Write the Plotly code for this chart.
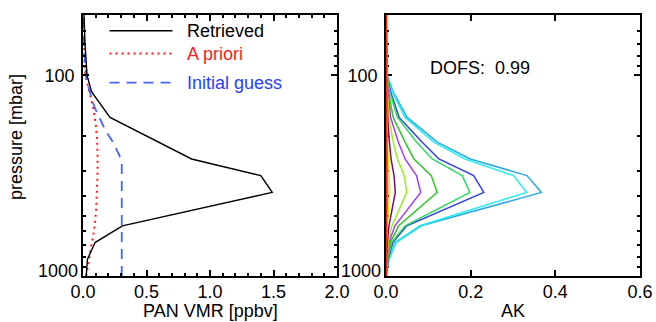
import math
import plotly.graph_objects as go

# ---------------- data ----------------
P = [1000, 908, 825, 681, 562, 383, 316, 261, 215, 162, 121, 100, 68, 50]
retrieved = [0.025, 0.03, 0.035, 0.095, 0.31, 1.49, 1.40, 0.855, 0.59, 0.213, 0.068, 0.032, 0.015, 0.008]

P_AP = [1000, 908, 825, 750, 681, 619, 562, 464, 383, 316, 261, 215, 178, 162, 147, 133, 121, 110, 100, 83, 68, 56, 50]
apriori = [0.025, 0.035, 0.048, 0.06, 0.07, 0.082, 0.092, 0.104, 0.11, 0.114, 0.115, 0.112, 0.102, 0.094,
           0.082, 0.066, 0.05, 0.034, 0.02, 0.011, 0.007, 0.005, 0.004]

P_IG = [1000, 908, 825, 681, 562, 464, 383, 316, 274, 249, 230, 210, 190, 166, 147, 135, 121, 110, 100, 83, 68, 56, 50]
initial = [0.305, 0.305, 0.305, 0.305, 0.305, 0.305, 0.305, 0.305, 0.305, 0.285, 0.258, 0.226, 0.18, 0.134,
           0.097, 0.075, 0.052, 0.035, 0.022, 0.012, 0.007, 0.004, 0.003]

# averaging kernel rows (on grid P)
ak_rows = {
    "red":     [0.001, 0.001, 0.001, 0.001, 0.001, 0.0015, 0.0015, 0.001, 0.001, 0.001, 0.001, 0.001, 0.001, 0.001],
    "orange":  [0.0, 0.0, 0.0, 0.0005, 0.001, 0.004, 0.0035, 0.002, 0.0015, 0.001, 0.0005, 0.0, 0.0, 0.0],
    "yellow":  [0.0, 0.0, 0.0005, 0.001, 0.003, 0.009, 0.008, 0.005, 0.003, 0.002, 0.001, 0.0, 0.0, 0.0],
    "dpurple": [0.0, 0.0005, 0.001, 0.003, 0.007, 0.022, 0.019, 0.012, 0.008, 0.004, 0.002, 0.0005, 0.0, 0.0],
    "ygreen":  [0.0, 0.001, 0.002, 0.005, 0.014, 0.049, 0.043, 0.027, 0.017, 0.007, 0.003, 0.001, 0.0, 0.0],
    "purple":  [0.0, 0.001, 0.002, 0.007, 0.021, 0.082, 0.072, 0.045, 0.029, 0.011, 0.004, 0.001, 0.0, 0.0],
    "green":   [0.0, 0.001, 0.003, 0.010, 0.030, 0.121, 0.107, 0.066, 0.045, 0.017, 0.006, 0.001, 0.0, 0.0],
    "mgreen":  [0.0, 0.002, 0.004, 0.013, 0.045, 0.198, 0.180, 0.109, 0.072, 0.027, 0.009, 0.002, 0.0, 0.0],
    "blue":    [0.0, 0.002, 0.005, 0.016, 0.049, 0.231, 0.207, 0.125, 0.085, 0.031, 0.011, 0.002, 0.0, 0.0],
    "cyan":    [0.0, 0.003, 0.007, 0.021, 0.080, 0.332, 0.301, 0.187, 0.113, 0.045, 0.015, 0.003, 0.0005, 0.0],
    "lblue":   [0.0, 0.003, 0.007, 0.023, 0.083, 0.367, 0.333, 0.199, 0.121, 0.050, 0.017, 0.003, 0.0005, 0.0],
}
ak_colors = {
    "red": "#ff2a00", "orange": "#ff8c1a", "yellow": "#f5f000", "dpurple": "#701470",
    "ygreen": "#98f020", "purple": "#a43cf0", "green": "#30c828", "mgreen": "#30dc64",
    "blue": "#3040f0", "cyan": "#22f0f0", "lblue": "#30a8e8",
}
ak_widths = {"yellow": 1.2, "orange": 1.5, "red": 1.8}

x1_ticks = [0.0, 0.5, 1.0, 1.5, 2.0]
x2_ticks = [0.0, 0.2, 0.4, 0.6]
y_ticks = [100, 1000]
y_ticktext = ["100", ""]          # "1000" is placed slightly above its tick, as in the original
y_bottom_label = "1000"
y_minor = [50, 60, 70, 80, 90, 200, 300, 400, 500, 600, 700, 800, 900]

FONT = "Liberation Sans, Arial, Helvetica, sans-serif"

fig = go.Figure()

# left panel
fig.add_trace(go.Scatter(x=apriori, y=P_AP, mode="lines", xaxis="x", yaxis="y",
                         line=dict(color="#ff1a1a", width=2, dash="2px,4px"), showlegend=False))
fig.add_trace(go.Scatter(x=initial, y=P_IG, mode="lines", xaxis="x", yaxis="y",
                         line=dict(color="#4466ff", width=1.8, dash="10px,7px"), showlegend=False))
fig.add_trace(go.Scatter(x=retrieved, y=P, mode="lines", xaxis="x", yaxis="y",
                         line=dict(color="black", width=1.4), showlegend=False))

# right panel
for name in ["lblue", "cyan", "blue", "mgreen", "green", "purple", "ygreen", "dpurple", "yellow", "orange", "red"]:
    fig.add_trace(go.Scatter(x=ak_rows[name], y=P, mode="lines", xaxis="x2", yaxis="y2",
                             line=dict(color=ak_colors[name], width=ak_widths.get(name, 1.5)),
                             showlegend=False))

dom1 = [0, 254 / 557]
dom2 = [303 / 557, 1]

common_axis = dict(showline=True, linecolor="black", linewidth=1.8, mirror="ticks",
                   ticks="inside", ticklen=6, tickwidth=1.5, tickcolor="black",
                   showgrid=False, zeroline=False, automargin=False,
                   tickfont=dict(family=FONT, size=18, color="black"))

yax = dict(common_axis, type="log", range=[3, math.log10(50)], tickvals=y_ticks,
           ticktext=y_ticktext, ticklabelstandoff=3,
           minor=dict(tickvals=y_minor, ticks="inside", ticklen=3, tickwidth=1.5, tickcolor="black"))

fig.update_layout(
    width=656, height=322,
    margin=dict(l=83, r=16, t=15, b=46, autoexpand=False),
    paper_bgcolor="white", plot_bgcolor="white",
    showlegend=False,
    xaxis=dict(common_axis, domain=dom1, range=[0, 2], tickvals=x1_ticks,
               ticktext=[f"{v:.1f}" for v in x1_ticks], ticklabelstandoff=-2,
               minor=dict(dtick=0.1, ticks="inside", ticklen=3, tickwidth=1.5, tickcolor="black")),
    yaxis=dict(yax, anchor="x"),
    xaxis2=dict(common_axis, domain=dom2, range=[0, 0.6], tickvals=x2_ticks,
                ticktext=[f"{v:.1f}" for v in x2_ticks], ticklabelstandoff=-2, anchor="y2"),
    yaxis2=dict(yax, anchor="x2", layer="below traces"),
)

ann = []
# bottom y labels
for xr, yr in (("x domain", "y domain"), ("x2 domain", "y2 domain")):
    ann.append(dict(text=y_bottom_label, xref=xr, yref=yr, x=0, xshift=-4, y=0, yshift=5,
                    showarrow=False, xanchor="right", yanchor="middle", borderpad=0,
                    font=dict(family=FONT, size=18, color="black")))
# axis titles
ann.append(dict(text="pressure [mbar]", xref="paper", yref="paper", x=(16 - 83) / 557, y=1 - (137 - 15) / 261,
                textangle=-90, showarrow=False, xanchor="center", yanchor="middle", borderpad=0,
                font=dict(family=FONT, size=18, color="black")))
ann.append(dict(text="PAN VMR [ppbv]", xref="x domain", yref="paper", x=0.5, y=0, yshift=-(310.5 - 276),
                showarrow=False, xanchor="center", yanchor="middle", borderpad=0,
                font=dict(family=FONT, size=18, color="black")))
ann.append(dict(text="AK", xref="x2 domain", yref="paper", x=0.5, y=0, yshift=-(310.5 - 276),
                showarrow=False, xanchor="center", yanchor="middle", borderpad=0,
                font=dict(family=FONT, size=18, color="black")))
ann.append(dict(text="DOFS:\u00a0 0.99", xref="x2 domain", yref="y2 domain", x=(428 - 386) / 254,
                y=1 - (68.5 - 15) / 261, showarrow=False, xanchor="left", yanchor="middle",
                font=dict(family=FONT, size=18, color="black")))

# legend (drawn manually to match the long line samples)
leg = [("Retrieved", "black", "solid", 1.4, 30.7),
       ("A priori", "#ff1a1a", "2px,4px", 2, 53.5),
       ("Initial guess", "#2840ff", "10px,7px", 1.8, 82.7)]
shapes = []
for text, col, dash, w, ypx in leg:
    yd = 1 - (ypx - 15) / 261
    lc = "#4466ff" if text == "Initial guess" else col
    shapes.append(dict(type="line", xref="x domain", yref="y domain",
                       x0=(109.5 - 83) / 254, x1=(172.5 - 83) / 254, y0=yd, y1=yd,
                       line=dict(color=lc, width=w, dash=dash)))
    ann.append(dict(text=text, xref="x domain", yref="y domain", x=(185 - 83) / 254, y=yd,
                    showarrow=False, xanchor="left", yanchor="middle",
                    font=dict(family=FONT, size=18, color=col)))

fig.update_layout(annotations=ann, shapes=shapes)
fig.write_html("out.html")
